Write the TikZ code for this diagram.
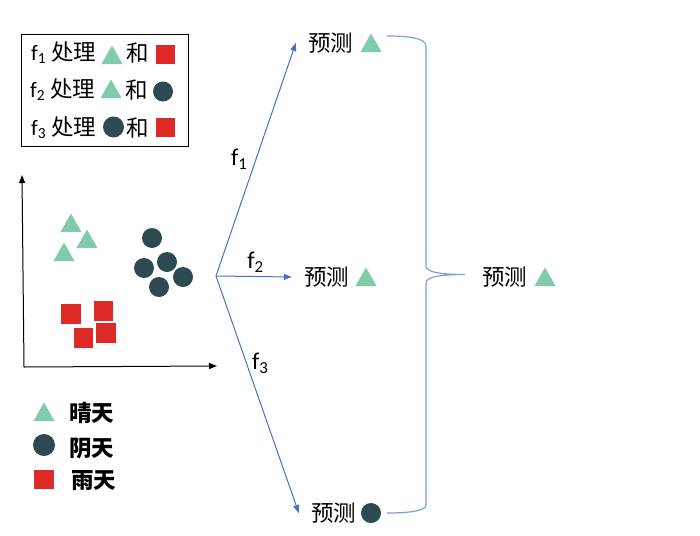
\documentclass[tikz,border=0pt]{standalone}
\usepackage{fontspec}
\setmainfont{Carlito}
\newfontfamily\cjk{Noto Sans CJK SC}
\usetikzlibrary{arrows.meta}

\definecolor{sunnyc}{HTML}{7FCBAA}
\definecolor{cloudyc}{HTML}{2D4A52}
\definecolor{rainyc}{HTML}{DD2A27}
\definecolor{arrowc}{HTML}{4472C4}
\definecolor{bracec}{HTML}{7C9DD8}

\tikzset{
    sunny/.pic = {\fill[sunnyc] (-10.5,9) -- (10.5,9) -- (0,-9.5) -- cycle;},
    cloudy/.pic = {\fill[cloudyc] (0,0) circle (#1);},
    rainy/.pic = {\fill[rainyc] (-9.75,-9.75) rectangle (9.75,9.75);},
    cntext/.style = {font = \fontsize{22.5}{26}\selectfont\cjk, inner sep = 0pt},
    ftext/.style = {font = \fontsize{24}{28}\selectfont}
}

\begin{document}
\begin{tikzpicture}[x = 1pt, y = -1pt]
        \useasboundingbox (0,0) rectangle (700,535);

        \begin{scope}[every node/.style = {cntext}]

            % Legend box: which classes each f handles.
            \draw[line width = 1pt] (21,35) rectangle (188,146);
            \node[anchor = west] (row1) at (31,53) {{\fontsize{22}{26}\selectfont\rmfamily f\textsubscript{1}} 处理};
            \pic at (112,55) {sunny};
            \node (and1) at (138,53) {和};
            \pic at (165.5,54.5) {rainy};

            \node[anchor = west] (row2) at (30,90) {{\fontsize{22}{26}\selectfont\rmfamily f\textsubscript{2}} 处理};
            \pic at (111,89) {sunny};
            \node (and2) at (137,90) {和};
            \pic at (163,91.5) {cloudy=10};

            \node[anchor = west] (row3) at (31,128) {{\fontsize{22}{26}\selectfont\rmfamily f\textsubscript{3}} 处理};
            \pic at (113.5,127) {cloudy=10.5};
            \node (and3) at (138,128) {和};
            \pic at (165.5,127.5) {rainy};
        \end{scope}

        % Axes.
        \coordinate (O) at (24,367);
        \coordinate (ytop) at (22,175);
        \coordinate (xend) at (217,366);
        \draw[line width = 1pt, -{Triangle[length = 8pt, width = 6pt]}] (O) -- (ytop);
        \draw[line width = 1pt, -{Triangle[length = 8pt, width = 6pt]}] (O) -- (xend);

        % Data points.
        \pic at (71,223) {sunny};
        \pic at (87,239) {sunny};
        \pic at (64,252) {sunny};
        \pic at (152,238) {cloudy=10};
        \pic at (144,268) {cloudy=10};
        \pic at (167,262) {cloudy=10};
        \pic at (183,277) {cloudy=10};
        \pic at (159,287) {cloudy=10};
        \pic at (71,314) {rainy};
        \pic at (103.5,311) {rainy};
        \pic at (83.5,338) {rainy};
        \pic at (106,333) {rainy};

        % Legend below.
        \begin{scope}[every node/.style = {cntext, anchor = west, font = \fontsize{22.5}{26}\selectfont\cjk\bfseries}]
            \pic at (44,412) {sunny};
            \node (sunnytext) at (69,413) {晴天};
            \pic at (44,445) {cloudy=11};
            \node (cloudytext) at (69,448) {阴天};
            \pic at (44,479.5) {rainy};
            \node (rainytext) at (71,481) {雨天};
        \end{scope}

        % Predictions.
        \begin{scope}[every node/.style = {cntext, inner xsep = 12pt}]
            \node (pred1) at (330.5,43) {预测};
            \pic at (371,43) {sunny};
            \node (pred2) at (326.5,277) {预测};
            \pic at (366,277) {sunny};
            \node (pred3) at (333.5,513) {预测};
            \pic at (371,513) {cloudy=10};
            \node (final) at (504.5,277) {预测};
            \pic at (545,277) {sunny};
        \end{scope}

        % Brace joining the three predictions.
        \draw[bracec, line width = 1.2pt]
            (387,36) .. controls (408,36) and (426,38) .. (426,46) -- (426,266)
            .. controls (426,273) and (445,274.5) .. (465,274.5)
            .. controls (445,274.5) and (426,276) .. (426,283) -- (426,505)
            .. controls (426,511) and (408,513) .. (387,513);

        \begin{scope}[%
            > = {Triangle[length = 8pt, width = 6pt]},
            every node/.style = {ftext, inner sep = 2pt},
            every edge/.style = {draw = arrowc, line width = 1pt}
        ]

            % Arrows from the data to each prediction.
            \coordinate (src) at (216,276);
            \path [->] (src) edge node[pos = 0.5, left = 6pt] {f\textsubscript{1}} (pred1.west);
            \path [->] (src) edge node[pos = 0.52, above = 2pt] {f\textsubscript{2}} (pred2.west);
            \path [->] (src) edge node[pos = 0.37, right = 3pt] {f\textsubscript{3}} (pred3.west);
        \end{scope}
    \end{tikzpicture}
\end{document}
